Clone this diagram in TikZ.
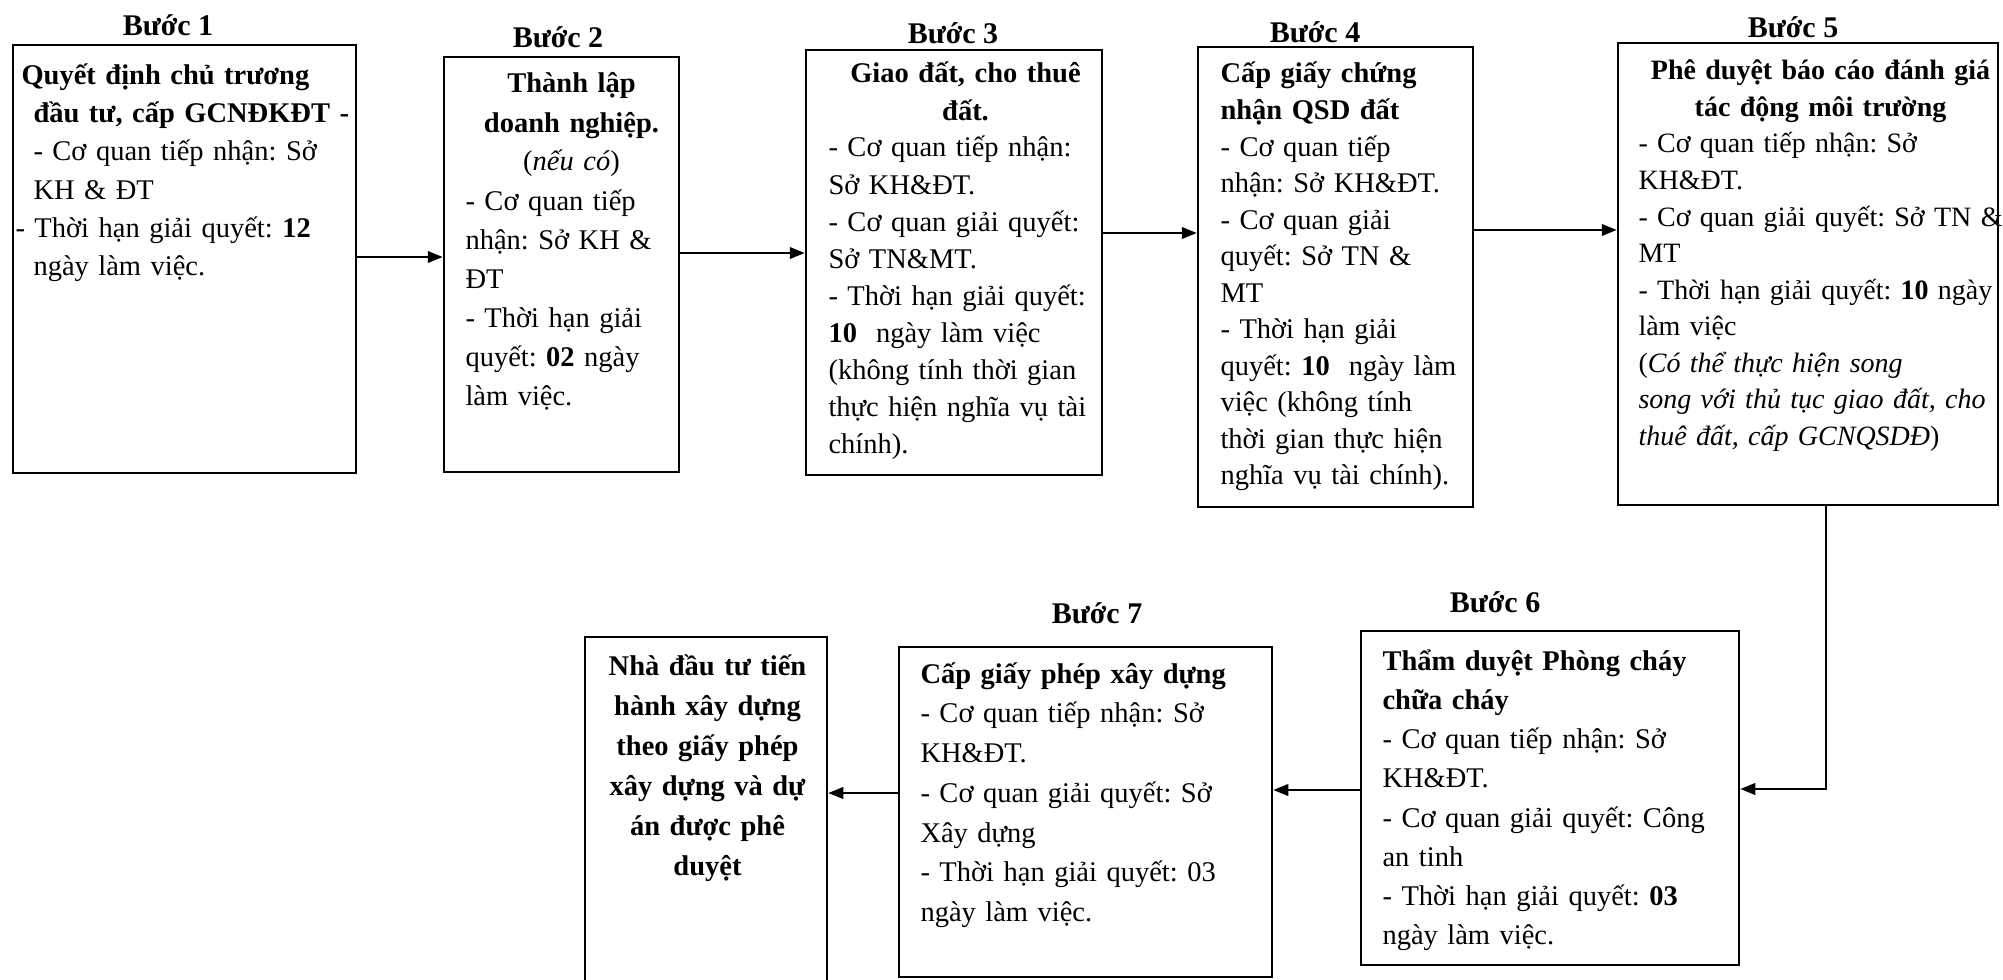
\documentclass[tikz,border=0pt]{standalone}
\usepackage{fontspec}
\setmainfont{Liberation Serif}
\usepackage{tikz}
\usetikzlibrary{arrows.meta,fit}
\frenchspacing
\tikzset{
  stepbox/.style={draw=black, line width=1pt, inner sep=0pt},
  steplabel/.style={font=\fontsize{12}{14}\selectfont\bfseries},
  boxtext/.style={anchor=base west, align=left, inner sep=0pt, font=\fontsize{11.4}{#1}\selectfont},
  arrow/.style={-{Triangle[length=6pt,width=4.6pt]}, draw=black, line width=0.9pt}
}
\newcommand{\ttl}[1]{{\centering\bfseries #1\par}}

\begin{document}
\begin{tikzpicture}[x=0.4pt, y=-0.4pt]
  \useasboundingbox (0,0) rectangle (2003,979);
  \clip (0,0) rectangle (2003,979);
  % Boxes, top row
  \node[stepbox, fit={(13,45) (356,473)}] (b1) {};
  \node[stepbox, fit={(444,57) (679,472)}] (b2) {};
  \node[stepbox, fit={(806,50) (1102,475)}] (b3) {};
  \node[stepbox, fit={(1198,47) (1473,507)}] (b4) {};
  \node[stepbox, fit={(1618,43) (1998,505)}] (b5) {};
  % Boxes, bottom row
  \node[stepbox, fit={(1361,631) (1739,965)}] (b6) {};
  \node[stepbox, fit={(899,647) (1272,977)}] (b7) {};
  \node[stepbox, fit={(585,637) (827,1010)}] (b8) {};
  % Step labels
  \node[steplabel] (l1) at (168,25) {Bước 1};
  \node[steplabel] (l2) at (558,37) {Bước 2};
  \node[steplabel] (l3) at (953,33) {Bước 3};
  \node[steplabel] (l4) at (1315,32) {Bước 4};
  \node[steplabel] (l5) at (1793,27) {Bước 5};
  \node[steplabel] (l6) at (1495,602) {Bước 6};
  \node[steplabel] (l7) at (1097,613) {Bước 7};
  % Texts in the boxes
  \node[boxtext=15.2pt, text width=160pt] (t1) at (33,85) {%
    \hspace*{-4.8pt}\textbf{Quyết định chủ trương}\\
    \textbf{đầu tư, cấp GCNĐKĐT -}\\
    - Cơ quan tiếp nhận: Sở\\
    KH \& ĐT\\
    \hspace*{-7.2pt}- Thời hạn giải quyết: \textbf{12}\\
    ngày làm việc.};
  \node[boxtext=15.6pt, text width=84.8pt] (t2) at (465,93) {%
    \ttl{Thành lập\\ doanh nghiệp.\\ \mdseries(\textit{nếu có})}
    - Cơ quan tiếp\\
    \mbox{nhận: Sở KH \&}\\
    ĐT\\
    - Thời hạn giải\\
    \mbox{quyết: \textbf{02} ngày}\\
    làm việc.};
  \node[boxtext=14.8pt, text width=109.6pt] (t3) at (828,83) {%
    \ttl{Giao đất, cho thuê\\ đất.}
    \mbox{- Cơ quan tiếp nhận:}\\
    Sở KH\&ĐT.\\
    \mbox{- Cơ quan giải quyết:}\\
    Sở TN\&MT.\\
    \mbox{- Thời hạn giải quyết:}\\
    \textbf{10}\ \ ngày làm việc\\
    \mbox{(không tính thời gian}\\
    \mbox{thực hiện nghĩa vụ tài}\\
    chính).};
  \node[boxtext=14.6pt, text width=160pt] (t4) at (1220,83) {%
    \textbf{Cấp giấy chứng}\\
    \textbf{nhận QSD đất}\\
    - Cơ quan tiếp\\
    nhận: Sở KH\&ĐT.\\
    - Cơ quan giải\\
    quyết: Sở TN \&\\
    MT\\
    - Thời hạn giải\\
    quyết: \textbf{10}\ \ ngày làm\\
    việc (không tính\\
    thời gian thực hiện\\
    nghĩa vụ tài chính).};
  \node[boxtext=14.6pt, font=\fontsize{11.2}{14.6pt}\selectfont, text width=145.6pt] (t5) at (1638,80) {%
    \ttl{Phê duyệt báo cáo đánh giá\\ tác động môi trường}
    \mbox{- Cơ quan tiếp nhận: Sở}\\
    KH\&ĐT.\\
    \mbox{- Cơ quan giải quyết: Sở TN \&}\\
    MT\\
    \mbox{- Thời hạn giải quyết: \textbf{10} ngày}\\
    làm việc\\
    (\textit{Có thể thực hiện song}\\
    \mbox{\textit{song với thủ tục giao đất, cho}}\\
    \mbox{\textit{thuê đất, cấp GCNQSDĐ})}};
  \node[boxtext=15.7pt, text width=160pt] (t6) at (1382,670) {%
    \textbf{Thẩm duyệt Phòng cháy}\\
    \textbf{chữa cháy}\\
    - Cơ quan tiếp nhận: Sở\\
    KH\&ĐT.\\
    - Cơ quan giải quyết: Công\\
    an tinh\\
    - Thời hạn giải quyết: \textbf{03}\\
    ngày làm việc.};
  \node[boxtext=15.9pt, text width=160pt] (t7) at (920,683) {%
    \textbf{Cấp giấy phép xây dựng}\\
    - Cơ quan tiếp nhận: Sở\\
    KH\&ĐT.\\
    - Cơ quan giải quyết: Sở\\
    Xây dựng\\
    - Thời hạn giải quyết: 03\\
    ngày làm việc.};
  \node[boxtext=16pt, text width=92.8pt] (t8) at (591,675) {%
    \ttl{Nhà đầu tư tiến\\ hành xây dựng\\ theo giấy phép\\ xây dựng và dự\\ án được phê\\ duyệt}};
  % Arrows between the steps
  \draw[arrow] (b1.east |- 0,257) -- (b2.west |- 0,257);
  \draw[arrow] (b2.east |- 0,253) -- (b3.west |- 0,253);
  \draw[arrow] (b3.east |- 0,233) -- (b4.west |- 0,233);
  \draw[arrow] (b4.east |- 0,230) -- (b5.west |- 0,230);
  \coordinate (turn) at (1826,789);
  \draw[arrow] (b5.south -| turn) -- (turn) -- (b6.east |- turn);
  \draw[arrow] (b6.west |- 0,790) -- (b7.east |- 0,790);
  \draw[arrow] (b7.west |- 0,793) -- (b8.east |- 0,793);
\end{tikzpicture}
\end{document}
